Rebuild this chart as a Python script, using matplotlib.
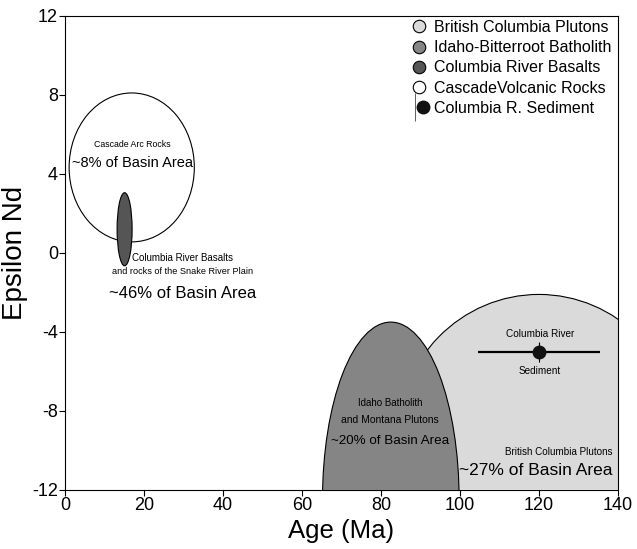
import matplotlib
matplotlib.use('Agg')
import matplotlib.pyplot as plt
from matplotlib.patches import Ellipse
from matplotlib.lines import Line2D
from matplotlib.legend_handler import HandlerTuple

plt.rcParams['font.family'] = ['Liberation Sans', 'DejaVu Sans']
plt.rcParams['axes.unicode_minus'] = False

# source fields (age in Ma, epsilon Nd): centre and full span of each ellipse
fields = ['British Columbia Plutons', 'Idaho-Bitterroot Batholith',
          'Columbia River Basalts', 'CascadeVolcanic Rocks']
age_mid = [120.0, 82.5, 15.1, 16.9]
age_span = [72.0, 34.6, 3.8, 31.7]
end_mid = [-9.5, -12.5, 1.2, 4.33]
end_span = [14.8, 18.0, 3.7, 7.54]
field_colors = ['#dadada', '#858585', '#555555', 'white']
field_z = [3, 4, 6, 5]   # basalts sit on top of the cascade field

# columbia river sediment
sed_age = 120.0
sed_end = -5.0
sed_age_err = 15.5
sed_end_err = 0.5

x_ticks = [0, 20, 40, 60, 80, 100, 120, 140]
y_ticks = [-12, -8, -4, 0, 4, 8, 12]

fig = plt.figure(figsize=(6.37, 5.49), dpi=100)
ax = fig.add_axes([0.102, 0.1075, 0.868, 0.8635])

for i in range(len(fields)):
    e = Ellipse((age_mid[i], end_mid[i]), age_span[i], end_span[i],
                facecolor=field_colors[i], edgecolor='black', lw=0.8, zorder=field_z[i])
    ax.add_patch(e)

ax.errorbar([sed_age], [sed_end], xerr=[sed_age_err], fmt='none', ecolor='black',
            elinewidth=1.6, capsize=0, zorder=8)
ax.errorbar([sed_age], [sed_end], yerr=[sed_end_err], fmt='none', ecolor='black',
            elinewidth=0.8, capsize=0, zorder=8)
ax.plot([sed_age], [sed_end], 'o', color='#111111', ms=9, zorder=9)

# labels on the plot
ax.text(17, 5.47, 'Cascade Arc Rocks', fontsize=6.3, ha='center', va='center', zorder=10)
ax.text(17, 4.56, '~8% of Basin Area', fontsize=10.5, ha='center', va='center', zorder=10)
ax.text(29.8, -0.25, 'Columbia River Basalts', fontsize=7, ha='center', va='center', zorder=10)
ax.text(29.8, -0.96, 'and rocks of the Snake River Plain', fontsize=6.6, ha='center', va='center', zorder=10)
ax.text(29.8, -2.03, '~46% of Basin Area', fontsize=12, ha='center', va='center', zorder=10)
ax.text(82.3, -7.6, 'Idaho Batholith', fontsize=7, ha='center', va='center', zorder=10)
ax.text(82.3, -8.46, 'and Montana Plutons', fontsize=7.5, ha='center', va='center', zorder=10)
ax.text(82.3, -9.52, '~20% of Basin Area', fontsize=9.6, ha='center', va='center', zorder=10)
ax.text(138.7, -10.07, 'British Columbia Plutons', fontsize=7.1, ha='right', va='center', zorder=10)
ax.text(138.7, -11.0, '~27% of Basin Area', fontsize=12.5, ha='right', va='center', zorder=10)
ax.text(120.3, -4.1, 'Columbia River', fontsize=7.2, ha='center', va='center', zorder=10)
ax.text(120.3, -5.97, 'Sediment', fontsize=7.2, ha='center', va='center', zorder=10)

ax.set_xlim(0, 140)
ax.set_ylim(-12, 12)
ax.set_xticks(x_ticks)
ax.set_yticks(y_ticks)
ax.tick_params(direction='out', length=4, width=0.8, labelsize=13, pad=1)
for s in ax.spines.values():
    s.set_linewidth(0.8)
ax.spines['bottom'].set_zorder(2)
ax.spines['right'].set_zorder(12)
ax.set_xlabel('Age (Ma)', fontsize=18.5, labelpad=4)
ax.set_ylabel('Epsilon Nd', fontsize=20, labelpad=3)

# legend
handles = []
for i in range(len(fields)):
    handles.append(Line2D([], [], ls='none', marker='o', ms=9, mfc=field_colors[i],
                          mec='black', mew=0.8))
sed_handle = (Line2D([], [], ls='none', marker='|', ms=20, mew=0.6, color='#444444'),
              Line2D([], [], ls='none', marker='o', ms=9, mfc='#111111', mec='#111111'))
handles.append(sed_handle)
labels = fields + ['Columbia R. Sediment']
leg = ax.legend(handles, labels, loc='upper right', bbox_to_anchor=(0.995, 1.0),
                frameon=False, fontsize=11.5, handlelength=1.0, handletextpad=0.45,
                labelspacing=0.33, borderaxespad=0.0, borderpad=0.25,
                handler_map={tuple: HandlerTuple(ndivide=None, pad=0)})
leg.set_zorder(11)

fig.savefig('out.png', dpi=100)
